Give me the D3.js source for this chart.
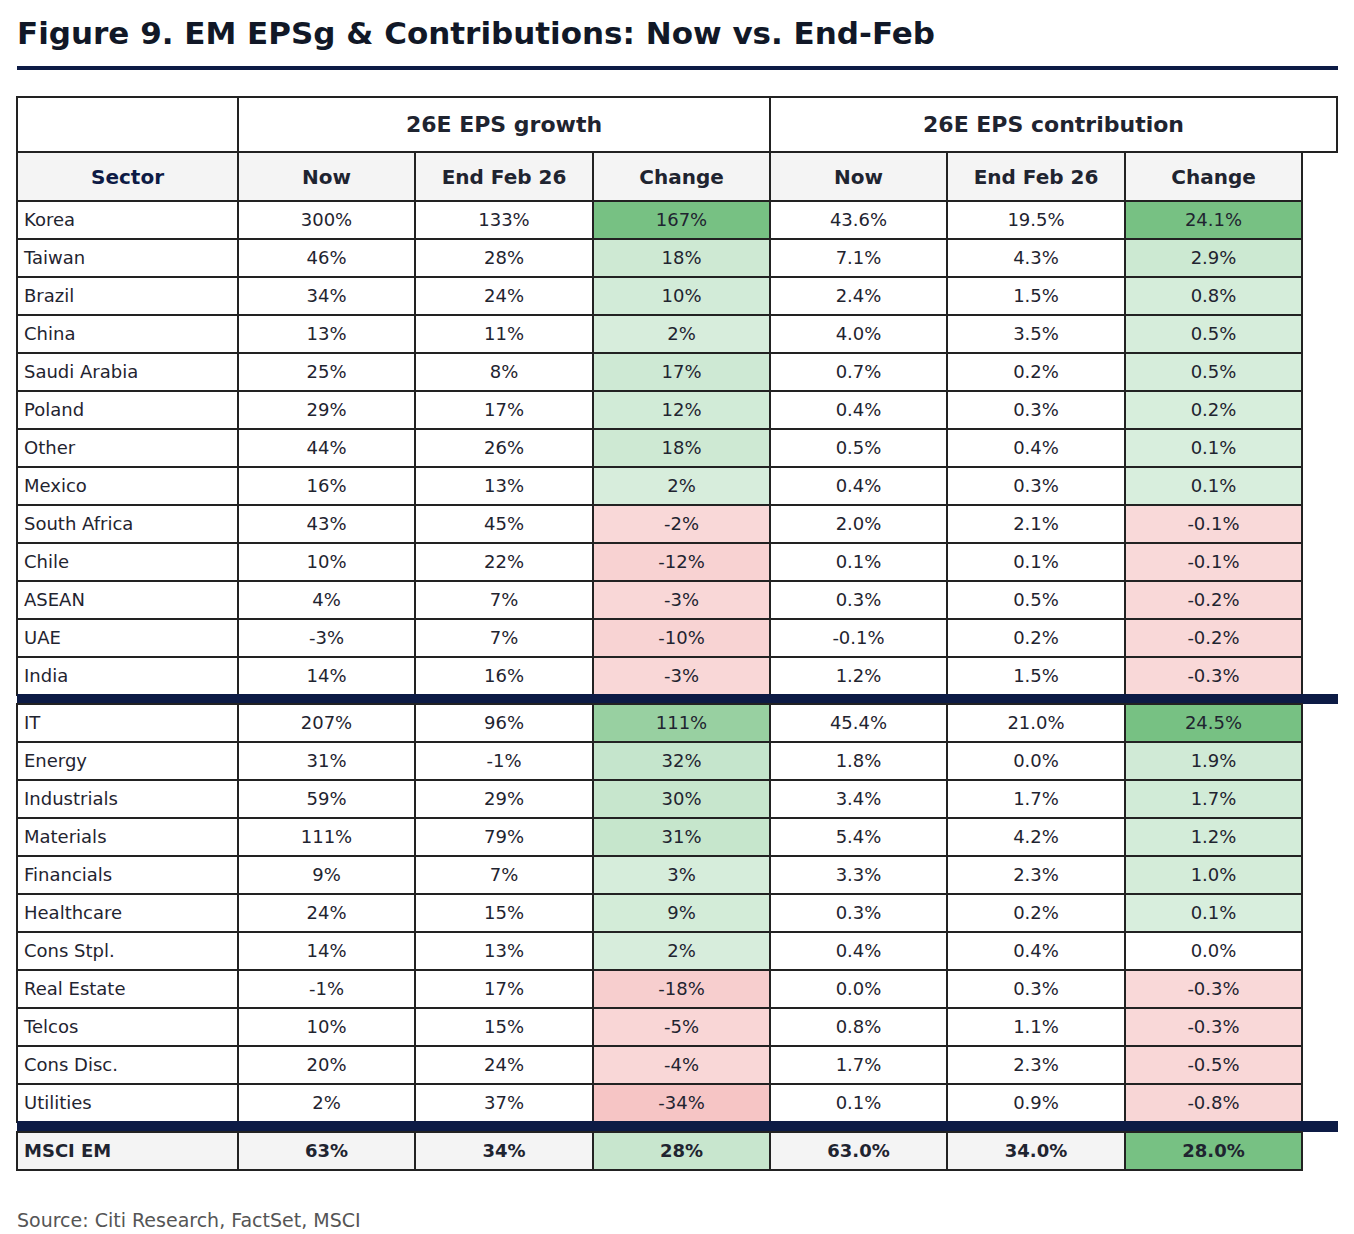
<!DOCTYPE html>
<html><head><meta charset="utf-8">
<script src="https://cdn.jsdelivr.net/npm/d3@7"></script>
<style>body{margin:0;background:#fff;font-family:"DejaVu Sans",sans-serif;}</style>
</head><body><svg id="chart"></svg>
<script>
const regions = ["Korea","Taiwan","Brazil","China","Saudi Arabia","Poland","Other","Mexico","South Africa","Chile","ASEAN","UAE","India"];
const regGrowthNow = [300,46,34,13,25,29,44,16,43,10,4,-3,14];
const regGrowthEnd = [133,28,24,11,8,17,26,13,45,22,7,7,16];
const regGrowthChg = [167,18,10,2,17,12,18,2,-2,-12,-3,-10,-3];
const regContNow = [43.6,7.1,2.4,4.0,0.7,0.4,0.5,0.4,2.0,0.1,0.3,-0.1,1.2];
const regContEnd = [19.5,4.3,1.5,3.5,0.2,0.3,0.4,0.3,2.1,0.1,0.5,0.2,1.5];
const regContChg = [24.1,2.9,0.8,0.5,0.5,0.2,0.1,0.1,-0.1,-0.1,-0.2,-0.2,-0.3];

const sectors = ["IT","Energy","Industrials","Materials","Financials","Healthcare","Cons Stpl.","Real Estate","Telcos","Cons Disc.","Utilities"];
const secGrowthNow = [207,31,59,111,9,24,14,-1,10,20,2];
const secGrowthEnd = [96,-1,29,79,7,15,13,17,15,24,37];
const secGrowthChg = [111,32,30,31,3,9,2,-18,-5,-4,-34];
const secContNow = [45.4,1.8,3.4,5.4,3.3,0.3,0.4,0.0,0.8,1.7,0.1];
const secContEnd = [21.0,0.0,1.7,4.2,2.3,0.2,0.4,0.3,1.1,2.3,0.9];
const secContChg = [24.5,1.9,1.7,1.2,1.0,0.1,0.0,-0.3,-0.3,-0.5,-0.8];

const total = {name:"MSCI EM", gNow:63, gEnd:34, gChg:28, cNow:63.0, cEnd:34.0, cChg:28.0};

const colHeads = ["Sector","Now","End Feb 26","Change","Now","End Feb 26","Change"];
const groupHeads = ["26E EPS growth","26E EPS contribution"];

const W = 1354, H = 1234;
const svg = d3.select("#chart").attr("width", W).attr("height", H);
const navy = "#0d1b45", line = "#222";

svg.append("text").attr("x",17).attr("y",44).attr("font-size",31).attr("font-weight","bold")
  .attr("fill","#111827").text("Figure 9. EM EPSg & Contributions: Now vs. End-Feb");
svg.append("rect").attr("x",17).attr("y",66).attr("width",1321).attr("height",4).attr("fill",navy);

const colEdges = [17,238,415,593,770,947,1125,1302];
const x = i => colEdges[i], cw = i => colEdges[i+1]-colEdges[i];
const rowH = 38;

const pos = d3.scaleLinear().domain([0,1]).range(["#d8eedd","#77c183"]).clamp(true);
const neg = d3.scaleLinear().domain([0,1]).range(["#f9d9d9","#f5c0c0"]).clamp(true);
function fill(v, max){
  if (v > 0) return pos(v/max);
  if (v < 0) return neg(-v/max*4);
  return "#fff";
}
const fg = v => v + "%", fc = v => v.toFixed(1) + "%";

function cell(xi, y, w, h, txt, opts={}){
  svg.append("rect").attr("x",xi).attr("y",y).attr("width",w).attr("height",h)
    .attr("fill",opts.fill||"#fff").attr("stroke",line).attr("stroke-width",2);
  svg.append("text").attr("x", opts.left ? xi+7 : xi+w/2).attr("y", y+h/2)
    .attr("dy","0.36em").attr("text-anchor", opts.left ? "start" : "middle")
    .attr("font-size", opts.size||18).attr("font-weight", opts.bold ? "bold":"normal")
    .attr("fill", opts.color||"#1f2430").text(txt);
}

// group header
cell(17,97,221,55,"");
cell(238,97,532,55,groupHeads[0],{bold:true,size:22});
cell(770,97,567,55,groupHeads[1],{bold:true,size:22});
colHeads.forEach((h,i)=>cell(x(i),152,cw(i),49,h,{bold:true,size:20,fill:"#f4f4f4",color:i===0?navy:"#1f2430"}));

function block(names, gn, ge, gc, cn, ce, cc, y0){
  const gMax = d3.max(regGrowthChg), cMax = d3.max(regContChg);
  names.forEach((n,r)=>{
    const y = y0 + r*rowH;
    cell(x(0),y,cw(0),rowH,n,{left:true});
    cell(x(1),y,cw(1),rowH,fg(gn[r]));
    cell(x(2),y,cw(2),rowH,fg(ge[r]));
    cell(x(3),y,cw(3),rowH,fg(gc[r]),{fill:fill(gc[r],gMax)});
    cell(x(4),y,cw(4),rowH,fc(cn[r]));
    cell(x(5),y,cw(5),rowH,fc(ce[r]));
    cell(x(6),y,cw(6),rowH,fc(cc[r]),{fill:fill(cc[r],cMax)});
  });
  return y0 + names.length*rowH;
}
let y = block(regions,regGrowthNow,regGrowthEnd,regGrowthChg,regContNow,regContEnd,regContChg,201);
svg.append("rect").attr("x",17).attr("y",y-1).attr("width",1321).attr("height",10).attr("fill",navy);
y = block(sectors,secGrowthNow,secGrowthEnd,secGrowthChg,secContNow,secContEnd,secContChg,y+9);
svg.append("rect").attr("x",17).attr("y",y-1).attr("width",1321).attr("height",11).attr("fill",navy);
y += 10;
const tv = [total.name, fg(total.gNow), fg(total.gEnd), fg(total.gChg), fc(total.cNow), fc(total.cEnd), fc(total.cChg)];
tv.forEach((t,i)=>cell(x(i),y,cw(i),rowH,t,{bold:true,left:i===0,fill:i===3?fill(total.gChg,d3.max(regGrowthChg)):i===6?fill(total.cChg,d3.max(regContChg)):"#f4f4f4"}));

svg.append("text").attr("x",17).attr("y",1227).attr("font-size",19).attr("fill","#555")
  .text("Source: Citi Research, FactSet, MSCI");
</script></body></html>
